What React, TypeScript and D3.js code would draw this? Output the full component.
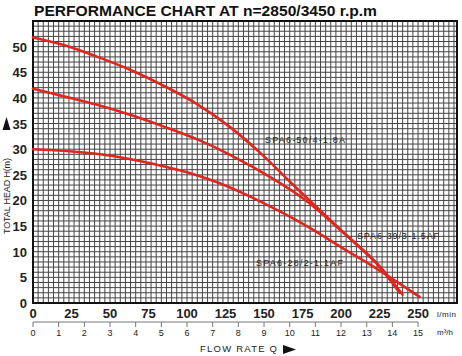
import React from "react";
import * as d3 from "d3";

const xTicksLmin = [0, 25, 50, 75, 100, 125, 150, 175, 200, 225, 250];
const xTicksM3h = [0, 1, 2, 3, 4, 5, 6, 7, 8, 9, 10, 11, 12, 13, 14, 15];
const yTicks = [0, 5, 10, 15, 20, 25, 30, 35, 40, 45, 50];

// curve points: [flow l/min, head m]
const curve50 = [
  [0, 51.8], [20, 50.3], [41, 48.1], [63, 45.5], [84, 42.5], [106, 38.9],
  [128, 34.3], [150, 28.6], [167, 23.6], [188, 17.6], [210, 11.4], [225, 7.2], [240, 1.6],
];
const curve39 = [
  [0, 41.8], [20, 40.3], [41, 38.7], [63, 36.7], [85, 34.4], [106, 32.0],
  [128, 28.9], [156, 24.2], [178, 19.8], [199, 14.4], [221, 8.4], [238, 2.0],
];
const curve28 = [
  [0, 30.0], [20, 29.7], [41, 29.1], [61, 28.2], [80, 27.0], [100, 25.5],
  [120, 23.5], [140, 20.9], [160, 17.9], [180, 14.6], [200, 10.9], [221, 7.1], [251, 1.2],
];
const seriesNames = ["SPA6-50/4-1.8A", "SPA6-39/3-1.5AF", "SPA6-28/2-1.1AF"];

export default function App() {
  const left = 33, right = 457, top = 21, bottom = 303;
  const x = d3.scaleLinear().domain([0, 275.3]).range([left, right]);
  const xm = d3.scaleLinear().domain([0, 15]).range([x(0), x(250)]);
  const y = d3.scaleLinear().domain([0, 55]).range([bottom, top]);

  const gridX = d3.range(0, 16.6, 0.2).map((v) => x((v * 1000) / 60));
  const gridY = d3.range(1, 55, 1).map((v) => y(v));

  const line = d3
    .line<number[]>()
    .x((d) => x(d[0]))
    .y((d) => y(d[1]))
    .curve(d3.curveCatmullRom.alpha(0.5));

  const red = "#e1251f";
  const font = "Arial, 'Liberation Sans', sans-serif";

  return (
    <svg width={462} height={356} style={{ position: "absolute", left: 0, top: 0, background: "#fff" }}>
      <text x={34} y={16} fontFamily={font} fontWeight="bold" fontSize={15.5} fill="#111" textLength={343} lengthAdjust="spacingAndGlyphs">
        PERFORMANCE CHART AT n=2850/3450 r.p.m
      </text>
      <g stroke="#454545" strokeWidth={1}>
        {gridX.map((gx, i) => (
          <line key={"gx" + i} x1={gx} x2={gx} y1={top} y2={bottom} />
        ))}
        {gridY.map((gy, i) => (
          <line key={"gy" + i} x1={left} x2={right} y1={gy} y2={gy} />
        ))}
      </g>
      <rect x={left} y={top} width={right - left} height={bottom - top} fill="none" stroke="#111" strokeWidth={2} />
      <g fill="none" stroke={red} strokeWidth={2.6} strokeLinecap="round">
        <path d={line(curve50) || ""} />
        <path d={line(curve39) || ""} />
        <path d={line(curve28) || ""} />
      </g>
      <g fontFamily={font} fontSize={9} fill="#222">
        <text x={265} y={143} textLength={80} lengthAdjust="spacing">{seriesNames[0]}</text>
        <text x={357} y={239} textLength={82} lengthAdjust="spacing">{seriesNames[1]}</text>
        <text x={256} y={266} textLength={87} lengthAdjust="spacing">{seriesNames[2]}</text>
      </g>
      <g fontFamily={font} fontWeight="bold" fontSize={13} fill="#222">
        {yTicks.map((t) => (
          <text key={"yt" + t} x={27} y={y(t) + 5} textAnchor="end">{t}</text>
        ))}
        {xTicksLmin.map((t) => (
          <text key={"xt" + t} x={x(t)} y={318} textAnchor="middle">{t}</text>
        ))}
      </g>
      <text x={437} y={317} fontFamily={font} fontSize={8} fill="#222" letterSpacing={0.5}>l/min</text>
      <line x1={xm(0)} x2={xm(15)} y1={322} y2={322} stroke="#777" strokeWidth={1} />
      <g fontFamily={font} fontSize={9} fill="#222">
        {xTicksM3h.map((t) => (
          <g key={"mt" + t}>
            <line x1={xm(t)} x2={xm(t)} y1={322} y2={327} stroke="#777" strokeWidth={1} />
            <text x={xm(t)} y={336} textAnchor="middle">{t}</text>
          </g>
        ))}
        <text x={437} y={335} fontSize={8}>m³/h</text>
      </g>
      <text x={200} y={352} fontFamily={font} fontSize={9.5} fill="#222" textLength={77} lengthAdjust="spacing">FLOW RATE Q</text>
      <path d="M283,345 L296,349.5 L283,354 Z" fill="#111" />
      <text transform="translate(10,196) rotate(-90)" fontFamily={font} fontSize={9} fill="#222" textAnchor="middle" textLength={76} lengthAdjust="spacing">
        TOTAL HEAD H(m)
      </text>
      <path d="M2.5,130 L6.5,117 L10.5,130 Z" fill="#111" />
    </svg>
  );
}
